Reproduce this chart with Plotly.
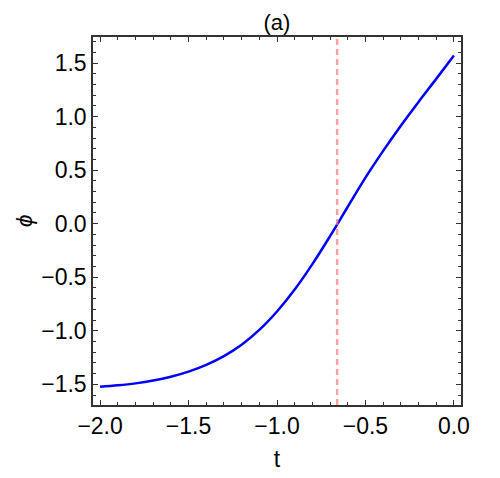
"""
Phase angle phi versus t, panel (a).
"""

import plotly.graph_objects as go

# values
t_values = [-2.0, -1.9, -1.8, -1.7, -1.6, -1.5, -1.4, -1.3, -1.2, -1.1, -1.0,
            -0.9, -0.8, -0.7, -0.6, -0.5, -0.4, -0.3, -0.2, -0.1, 0.0]
phi_values = [-1.522, -1.509, -1.491, -1.465, -1.429, -1.381, -1.318, -1.236, -1.130, -0.992, -0.820,
              -0.615, -0.378, -0.116, 0.158, 0.430, 0.680, 0.915, 1.137, 1.352, 1.571]
t_cross = -0.66  # where phi crosses zero (dashed marker)

x_ticks = [-2.0, -1.5, -1.0, -0.5, 0.0]
y_ticks = [-1.5, -1.0, -0.5, 0.0, 0.5, 1.0, 1.5]

FONT = "Liberation Sans, Arial, sans-serif"
AXIS_COLOR = "#333333"

fig = go.Figure()

fig.add_trace(
    go.Scatter(
        x=t_values,
        y=phi_values,
        mode="lines",
        line=dict(color="#0000ff", width=2.5, shape="spline", smoothing=1.0),
        showlegend=False,
    )
)

# dashed marker at the zero crossing
fig.add_vline(
    x=t_cross,
    line=dict(color="rgba(255,120,120,0.7)", width=2.5, dash="6px,4px"),
)

axis_common = dict(
    showgrid=False,
    zeroline=False,
    showline=True,
    linecolor=AXIS_COLOR,
    linewidth=1.5,
    mirror="allticks",
    ticks="inside",
    ticklen=5,
    tickwidth=1,
    tickcolor=AXIS_COLOR,
    tickfont=dict(family=FONT, size=23, color="black"),
    title_font=dict(family=FONT, size=23, color="black"),
    tickformat=".1f",
    automargin=False,
)

# y label as an annotation so it can sit further out than the axis title allows
fig.add_annotation(
    text="<i>ϕ</i>",
    xref="paper",
    yref="paper",
    x=-0.187,
    y=0.5,
    xanchor="center",
    yanchor="middle",
    textangle=-90,
    showarrow=False,
    borderpad=0,
    font=dict(family=FONT, size=23, color="black"),
)

# the page body adds an 8px offset, so margins are shifted to compensate
fig.update_layout(
    width=500,
    height=478,
    margin=dict(l=85, r=47, t=29, b=81),
    plot_bgcolor="white",
    paper_bgcolor="white",
    title=dict(
        text="(a)",
        font=dict(family=FONT, size=22, color="black"),
        x=0.538,
        xanchor="center",
        y=0.970,
        yanchor="middle",
    ),
    xaxis=dict(
        axis_common,
        range=[-2.04, 0.04],
        tickvals=x_ticks,
        minor=dict(dtick=0.1, ticks="inside", ticklen=3, tickcolor=AXIS_COLOR),
        title=dict(text="t", standoff=13),
    ),
    yaxis=dict(
        axis_common,
        range=[-1.693, 1.743],
        tickvals=y_ticks,
        minor=dict(dtick=0.1, ticks="inside", ticklen=3, tickcolor=AXIS_COLOR),
    ),
)

fig.write_html("out.html")
